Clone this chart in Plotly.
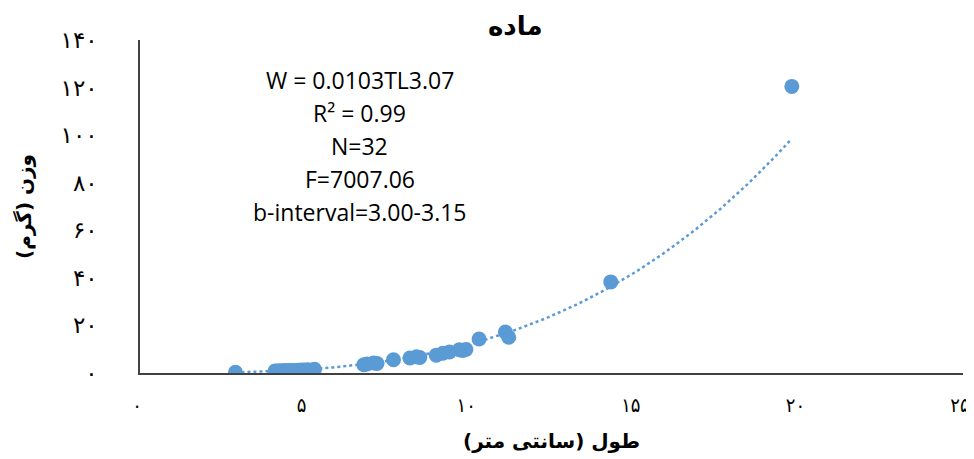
import numpy as np
import plotly.graph_objects as go

# Data
length_cm = [2.9, 4.1, 4.2, 4.3, 4.4, 4.5, 4.6, 4.7, 4.8, 4.9, 5.0, 5.1, 5.3,
             6.8, 6.9, 7.1, 7.2, 7.7, 8.2, 8.4, 8.5, 9.0, 9.2, 9.4, 9.7, 9.8,
             9.9, 10.3, 11.1, 11.2, 14.3, 19.8]
weight_g = [0.3, 0.8, 0.9, 0.9, 1.0, 1.0, 1.1, 1.1, 1.2, 1.3, 1.3, 1.4, 1.6,
            3.5, 3.8, 4.2, 4.0, 5.6, 6.3, 6.8, 6.5, 7.5, 8.3, 8.8, 9.8, 9.5,
            9.9, 14.3, 17.2, 15.0, 38.3, 120.5]

fit_a = 0.0103
fit_b = 3.07

x_tickvals = [0, 5, 10, 15, 20, 25]
x_ticktext = ["۰", "۵", "۱۰", "۱۵", "۲۰", "۲۵"]
y_tickvals = [0, 20, 40, 60, 80, 100, 120, 140]
y_ticktext = ["۰", "۲۰", "۴۰", "۶۰", "۸۰", "۱۰۰", "۱۲۰", "۱۴۰"]

stats_lines = ["W = 0.0103TL3.07", "R² = 0.99", "N=32", "F=7007.06",
               "b-interval=3.00-3.15"]

title_text = "ماده"
x_title = "طول (سانتی متر)"
y_title = "وزن (گرم)"

color = "#5B9BD5"

fig = go.Figure()

xs = np.linspace(min(length_cm), max(length_cm), 200)
ys = fit_a * xs ** fit_b
fig.add_trace(go.Scatter(x=xs, y=ys, mode="lines",
                         line=dict(color=color, width=2.5, dash="dot"),
                         hoverinfo="skip", showlegend=False))
fig.add_trace(go.Scatter(x=length_cm, y=weight_g, mode="markers",
                         marker=dict(color=color, size=15),
                         showlegend=False))

line_y = [0.88, 0.781, 0.682, 0.583, 0.483]
for txt, yy in zip(stats_lines, line_y):
    fig.add_annotation(text=txt, xref="paper", yref="paper", x=0.267, y=yy,
                       showarrow=False, xanchor="center", yanchor="middle",
                       font=dict(family="Open Sans, Liberation Sans", size=23,
                                 color="#000000"))

fig.add_annotation(text="<b>" + title_text + "</b>", xref="paper", yref="paper",
                   x=0.456, y=1.0, yshift=14, showarrow=False,
                   xanchor="center", yanchor="middle",
                   font=dict(family="DejaVu Sans", size=26, color="#000000"))

# page body has an 8px margin; size the figure so the plot area lands where
# the reference draws it
fig.update_layout(
    width=966, height=451,
    margin=dict(l=132, r=11, t=32, b=86),
    plot_bgcolor="white", paper_bgcolor="white",
    xaxis=dict(range=[0, 25], tickvals=x_tickvals, ticktext=x_ticktext,
               showgrid=False, zeroline=False, showline=True,
               linecolor="#404040", linewidth=1.5, ticks="",
               ticklabelstandoff=13, automargin=False,
               ticklabeloverflow="allow", ticklabelshift=-3,
               tickfont=dict(family="DejaVu Sans Condensed, DejaVu Sans",
                             size=20, color="#000000"),
               title=dict(text="<b>" + x_title + "</b>", standoff=18,
                          font=dict(family="DejaVu Sans", size=20,
                                    color="#000000"))),
    yaxis=dict(range=[0, 140], tickvals=y_tickvals, ticktext=y_ticktext,
               showgrid=False, zeroline=False, showline=True,
               linecolor="#404040", linewidth=1.5, ticks="",
               ticklabelstandoff=36, automargin=False,
               tickfont=dict(family="DejaVu Sans", size=23, color="#000000"),
               title=dict(text="<b>" + y_title + "</b>", standoff=24,
                          font=dict(family="DejaVu Sans", size=20,
                                    color="#000000"))),
)

fig.write_html("out.html")
